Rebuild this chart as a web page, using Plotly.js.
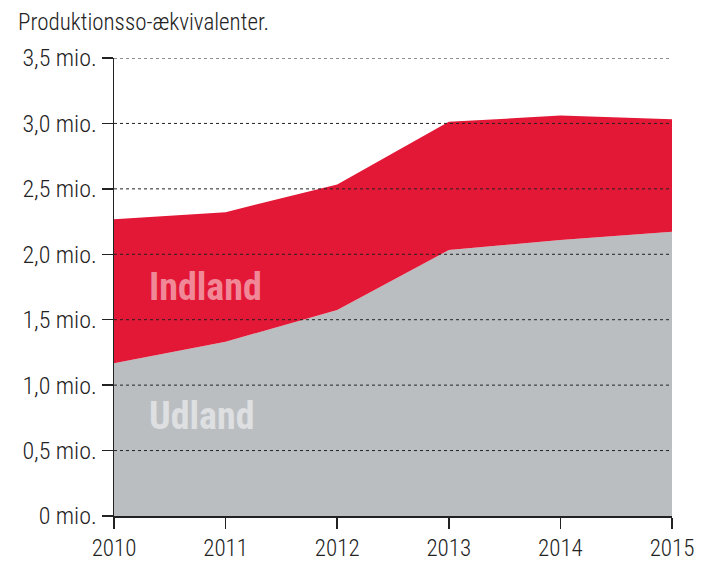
<!DOCTYPE html>
<html><head><meta charset="utf-8">
<script src="https://cdn.plot.ly/plotly-3.0.1.min.js"></script>
<style>body{margin:0;background:#fff}#c{width:703px;height:564px}</style>
</head><body><div id="c"></div>
<script>
const years = [2010, 2011, 2012, 2013, 2014, 2015];
const udland = [1.167, 1.332, 1.574, 2.032, 2.11, 2.172];
const indland = [1.10, 0.99, 0.96, 0.98, 0.95, 0.86];
const tickVals = [0, 0.5, 1.0, 1.5, 2.0, 2.5, 3.0, 3.5];
const tickText = ['0 mio.', '0,5 mio.', '1,0 mio.', '1,5 mio.', '2,0 mio.', '2,5 mio.', '3,0 mio.', '3,5 mio.'];
const FONT = '"Roboto Condensed", "Arial Narrow", sans-serif';

const traces = [
  {x: years, y: udland, type: 'scatter', mode: 'lines', stackgroup: 'a', line: {width: 0, color: '#BBBEC1'}, fillcolor: '#BBBEC1', name: 'Udland', hoverinfo: 'skip'},
  {x: years, y: indland, type: 'scatter', mode: 'lines', stackgroup: 'a', line: {width: 0, color: '#E31837'}, fillcolor: '#E31837', name: 'Indland', hoverinfo: 'skip'}
];

const shapes = tickVals.filter(v => v > 0).map(v => ({
  type: 'line', xref: 'paper', yref: 'y', x0: 0, x1: 1, y0: v, y1: v,
  line: {color: '#222', width: 1, dash: 'dot'}, layer: 'above'
}));

const layout = {
  width: 703, height: 564,
  margin: {l: 114, r: 31, t: 58, b: 48},
  paper_bgcolor: '#fff', plot_bgcolor: '#fff',
  showlegend: false,
  font: {family: FONT, size: 22, color: '#222'},
  xaxis: {
    range: [2010, 2015], tickvals: years, ticktext: years.map(String),
    showgrid: false, zeroline: false, showline: true, linecolor: '#222', linewidth: 1.5,
    ticks: 'outside', ticklen: 11, tickcolor: '#222', tickwidth: 1.5, ticklabelstandoff: 0,
    tickfont: {family: FONT, size: 23, color: '#222', weight: 300}, layer: 'above traces'
  },
  yaxis: {
    range: [0, 3.5], tickvals: tickVals, ticktext: tickText,
    showgrid: false, zeroline: false, showline: true, linecolor: '#222', linewidth: 1.5,
    ticks: 'outside', ticklen: 11, tickcolor: '#222', tickwidth: 1.5,
    tickfont: {family: FONT, size: 24, color: '#222', weight: 300}, layer: 'above traces'
  },
  shapes: shapes,
  annotations: [
    {xref: 'paper', yref: 'paper', x: -0.175, y: 1.0, xanchor: 'left', yanchor: 'bottom', yshift: 20,
     text: 'Produktionsso-ækvivalenter.', showarrow: false, font: {family: FONT, size: 23, color: '#222', weight: 300}},
    {x: 2010.3, y: 1.75, xanchor: 'left', yanchor: 'middle', text: '<b>Indland</b>', showarrow: false,
     font: {family: FONT, size: 38, color: '#F08898'}},
    {x: 2010.3, y: 0.764, xanchor: 'left', yanchor: 'middle', text: '<b>Udland</b>', showarrow: false,
     font: {family: FONT, size: 38, color: '#DDDFE1'}}
  ]
};
Plotly.newPlot('c', traces, layout, {displayModeBar: false, staticPlot: true});
</script></body></html>
